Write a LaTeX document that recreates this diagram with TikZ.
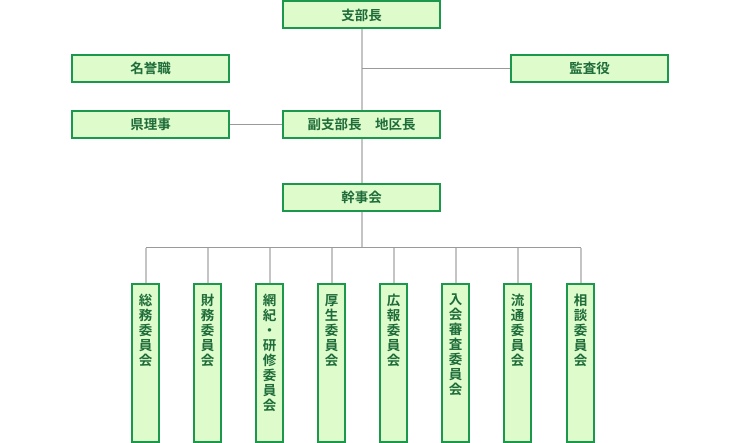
\documentclass[tikz,border=0pt]{standalone}
\usepackage{fontspec}
\setmainfont{Noto Sans CJK JP}[BoldFont={Noto Sans CJK JP Bold}]
\usepackage{xcolor}
\definecolor{boxfill}{HTML}{DEFBCB}
\definecolor{boxline}{HTML}{1B984B}
\definecolor{boxtext}{HTML}{1E6C3A}
\definecolor{vline}{HTML}{C4C4C4}
\definecolor{hline}{HTML}{9A9A9A}
\tikzset{
  yokobox/.style={draw=boxline, fill=boxfill, line width=2pt,
    minimum width=157pt, minimum height=27pt, inner sep=0pt,
    font=\fontsize{13.5pt}{15pt}\selectfont\bfseries, text=boxtext},
  tatebox/.style={draw=boxline, fill=boxfill, line width=2pt,
    minimum width=27pt, minimum height=158pt, inner sep=0pt, anchor=north},
  tatetext/.style={anchor=north, align=center, inner sep=0pt,
    font=\fontsize{13.5pt}{15pt}\selectfont\bfseries, text=boxtext},
  tline/.style={draw=vline, line width=2pt},
  yline/.style={draw=hline, line width=1pt}
}
\begin{document}
\begin{tikzpicture}[x=1pt, y=-1pt]
  \useasboundingbox (0,0) rectangle (740,443);

  % top rows
  \node[yokobox] (shibucho) at (361.5,15) {支部長};
  \node[yokobox] (meiyo) at (150.5,68.5) {名誉職};
  \node[yokobox] (kansa) at (589.5,68.5) {監査役};
  \node[yokobox] (kenriji) at (150.5,124.5) {県理事};
  \node[yokobox] (fuku) at (361.5,124.5) {副支部長\quad 地区長};
  \node[yokobox] (kanji) at (361.5,197.5) {幹事会};

  % committees
  \node[tatebox] (somu) at (145.5,283.5) {};
  \node[tatebox] (zaimu) at (207.5,283.5) {};
  \node[tatebox] (koki) at (269.5,283.5) {};
  \node[tatebox] (kosei) at (331.5,283.5) {};
  \node[tatebox] (koho) at (393.5,283.5) {};
  \node[tatebox] (nyukai) at (455.5,283.5) {};
  \node[tatebox] (ryutsu) at (517.5,283.5) {};
  \node[tatebox] (sodan) at (580.5,283.5) {};

  \node[tatetext] at ([yshift=-10.5pt]somu.north) {総\\務\\委\\員\\会};
  \node[tatetext] at ([yshift=-10.5pt]zaimu.north) {財\\務\\委\\員\\会};
  \node[tatetext] at ([yshift=-10.5pt]koki.north) {網\\紀\\・\\研\\修\\委\\員\\会};
  \node[tatetext] at ([yshift=-10.5pt]kosei.north) {厚\\生\\委\\員\\会};
  \node[tatetext] at ([yshift=-10.5pt]koho.north) {広\\報\\委\\員\\会};
  \node[tatetext] at ([yshift=-10.5pt]nyukai.north) {入\\会\\審\\査\\委\\員\\会};
  \node[tatetext] at ([yshift=-10.5pt]ryutsu.north) {流\\通\\委\\員\\会};
  \node[tatetext] at ([yshift=-10.5pt]sodan.north) {相\\談\\委\\員\\会};

  % connectors
  \coordinate (bus) at (361.5,248);
  \draw[tline] (shibucho.south) -- (fuku.north);
  \draw[yline] (shibucho.south |- kansa.west) -- (kansa.west);
  \draw[yline] (kenriji.east) -- (fuku.west);
  \draw[tline] (fuku.south) -- (kanji.north);
  \draw[tline] (kanji.south) -- (bus);
  \draw[yline] (somu.north |- bus) -- (sodan.north |- bus);
  \foreach \n in {somu,zaimu,koki,kosei,koho,nyukai,ryutsu,sodan}
    \draw[tline] (\n.north |- bus) -- (\n.north);
\end{tikzpicture}
\end{document}
